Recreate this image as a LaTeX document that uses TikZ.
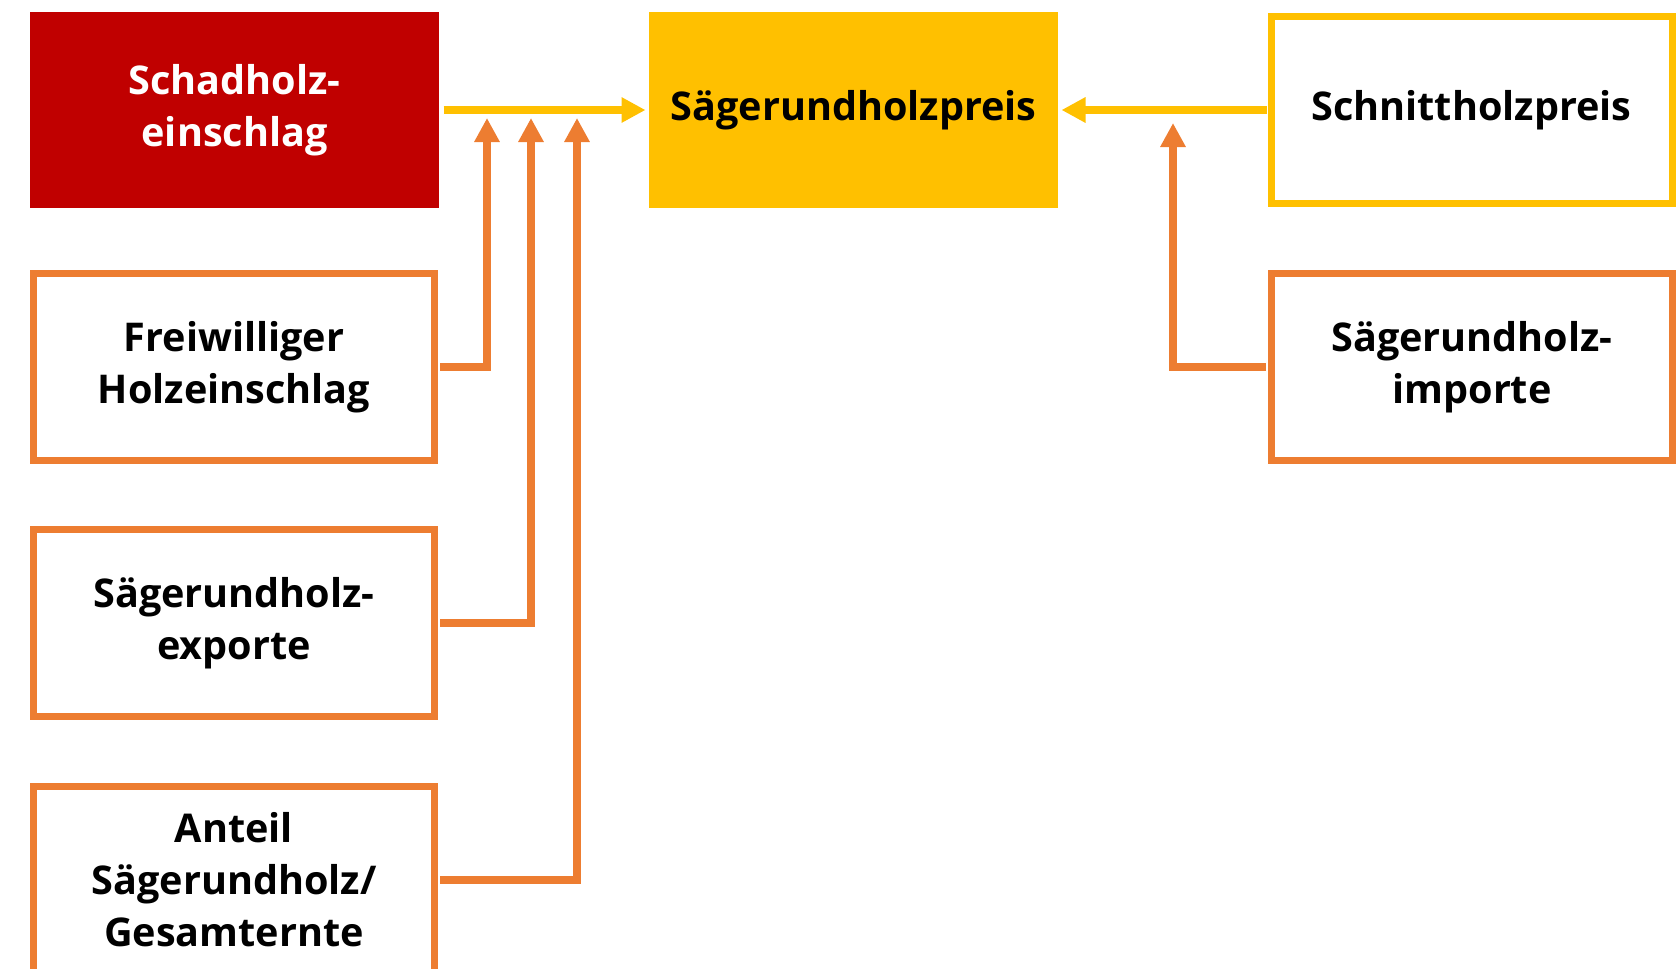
\documentclass[tikz,border=0pt]{standalone}
\usepackage{fontspec}
\setsansfont{Open Sans}
\usetikzlibrary{arrows.meta}
\definecolor{schadrot}{HTML}{C00000}
\definecolor{preisgelb}{HTML}{FFC000}
\definecolor{faktororange}{HTML}{ED7D31}
\begin{document}
\begin{tikzpicture}[x=0.5pt,y=-0.5pt,font=\sffamily\bfseries\fontsize{19.8}{26}\selectfont,
	box/.style={align=center,inner sep=0pt,line width=3.5pt,minimum width=200.5pt,minimum height=93.5pt},
	vollbox/.style={box,draw=none,minimum width=204.5pt,minimum height=98pt},
	gelbpfeil/.style={line width=4pt,preisgelb,-{Triangle[length=12pt,width=12pt]},shorten <=0.5pt},
	orangepfeil/.style={line width=4pt,faktororange,-{Triangle[length=12pt,width=12pt]},shorten <=1pt}]
			\useasboundingbox (0,0) rectangle (1676,969);
			\clip (0,0) rectangle (1676,969);

			\node[vollbox,fill=schadrot,text=white] (schad) at (234.5,110) {Schadholz-\\einschlag};
			\node[vollbox,fill=preisgelb] (preis) at (853.5,110) {Sägerundholzpreis};
			\node[box,draw=preisgelb] (schnitt) at (1471.5,110) {Schnittholzpreis};

			\node[box,draw=faktororange] (frei) at (234,367) {Freiwilliger\\Holzeinschlag};
			\node[box,draw=faktororange] (export) at (234,623) {Sägerundholz-\\exporte};
			\node[box,draw=faktororange] (anteil) at (234,880) {Anteil\\Sägerundholz/\\Gesamternte};
			\node[box,draw=faktororange] (import) at (1472,367) {Sägerundholz-\\importe};

			\coordinate (spitze1) at (487,118);
			\coordinate (spitze2) at (531,118);
			\coordinate (spitze3) at (577,118);
			\coordinate (spitze4) at (1173,123);

			\draw[gelbpfeil] (schad.east) -- (preis.west);
			\draw[gelbpfeil] (schnitt.west) -- (preis.east);

			\foreach \quelle/\ziel in {frei/spitze1,export/spitze2,anteil/spitze3,import/spitze4} {
				\draw[orangepfeil] (\quelle) -| (\ziel);
			}
		\end{tikzpicture}
\end{document}
